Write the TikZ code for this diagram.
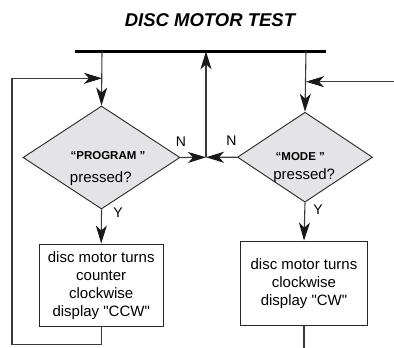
\documentclass[tikz,border=0pt]{standalone}
\usepackage{fontspec}
\setmainfont{Liberation Sans}[Ligatures=TeXOff]
\usetikzlibrary{arrows.meta,shapes.geometric}
\definecolor{ln}{HTML}{3A3A3A}
\definecolor{dfill}{HTML}{E4E4E6}
\tikzset{
  conn/.style={draw=ln,line width=1.1pt,-{Stealth[length=18pt,width=11pt,inset=5pt,fill=black!90,color=black!90]}},
  plain/.style={draw=ln,line width=1.1pt},
  decision/.style={diamond,draw=black!85,line width=0.9pt,fill=dfill,inner sep=0pt},
  procbox/.style={rectangle,draw=black!85,line width=0.9pt,fill=white,inner sep=0pt,align=center,font=\fontsize{15}{18}\selectfont},
  lbl/.style={font=\fontsize{14}{16}\selectfont,inner sep=0pt},
  dtxt/.style={inner sep=0pt,anchor=base},
}
\begin{document}
\begin{tikzpicture}[x=1pt,y=-1pt]
\useasboundingbox (0,0) rectangle (394,348);
% title
\node[font=\fontsize{18.5}{20}\selectfont\bfseries\itshape,inner sep=0pt] (title) at (210,20) {DISC MOTOR TEST};
% bar
\coordinate (barL) at (75,51.3);
\coordinate (barR) at (326,51.3);
\draw[line width=2.7pt,black] (barL) -- (barR);
\coordinate (barA) at (102,51.3);
\coordinate (barB) at (306,51.3);
\coordinate (barC) at (206,51.3);
% diamonds
\node[decision,minimum width=157,minimum height=103] (d1) at (101.5,157.5) {};
\node[decision,minimum width=135,minimum height=90] (d2) at (305,157.2) {};
\node[dtxt,font=\fontsize{11.5}{13}\selectfont\bfseries] (t1) at (108,159) {“PROGRAM ”};
\node[dtxt,font=\fontsize{15}{18}\selectfont] (t2) at (100.8,182.5) {pressed?};
\node[dtxt,font=\fontsize{11.5}{13}\selectfont\bfseries] (t3) at (300.3,160.7) {“MODE ”};
\node[dtxt,font=\fontsize{15}{18}\selectfont] (t4) at (304.2,179.5) {pressed?};
% boxes
\node[procbox,minimum width=124.3,minimum height=82.7] (b1) at (101.2,285.3) {disc motor turns\\counter\\clockwise\\display "CCW"};
\node[procbox,minimum width=126.6,minimum height=84.3] (b2) at (304,283.2) {disc motor turns\\clockwise\\display "CW"};
% junction
\coordinate (j) at (206,157.3);
% connectors
\draw[conn] (barA) -- (d1.north);
\draw[conn] (barB) -- (d2.north);
\draw[conn] (j) -- (barC);
\draw[conn] (d1.east) -- (j);
\draw[conn] (d2.west) -- (j);
\draw[conn] (d1.south) -- (b1.north);
\draw[conn] (d2.south) -- (b2.north);
% loop back
\coordinate (l1) at (101.2,344.3);
\coordinate (l2) at (12,344.3);
\coordinate (l3) at (12,78.3);
\coordinate (l4) at (102,78.3);
\draw[plain] (b1.south) -- (l1) -- (l2) -- (l3);
\draw[conn] (l3) -- (l4);
% right entry
\coordinate (r1) at (394,81.7);
\coordinate (r2) at (306,81.7);
\draw[conn] (r1) -- (r2);
% right box exit
\coordinate (e2) at (304,348);
\draw[plain] (b2.south) -- (e2);
% labels
\node[lbl] (n1) at (181,142) {N};
\node[lbl] (n2) at (231.5,141) {N};
\node[lbl] (y1) at (118,212.5) {Y};
\node[lbl] (y2) at (318,210) {Y};
\end{tikzpicture}
\end{document}
